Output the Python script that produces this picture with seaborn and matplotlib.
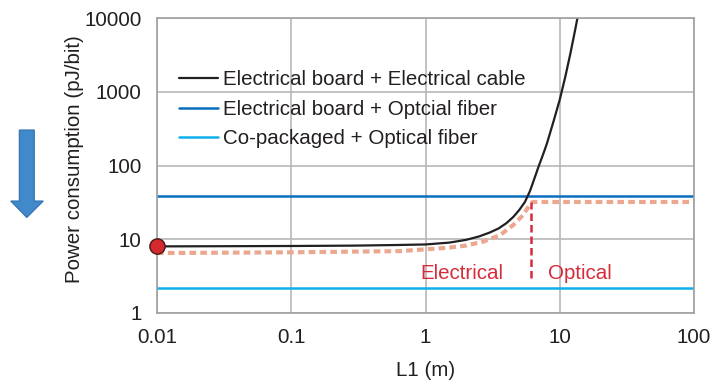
import matplotlib
matplotlib.use("Agg")
import matplotlib.pyplot as plt
import seaborn as sns
import numpy as np
import pandas as pd
from matplotlib.patches import Polygon

# ---------------- data ----------------
cable_L = [0.01, 0.1, 0.3, 0.6, 1.0, 1.5, 2.0, 2.5, 3.0, 3.5, 4.0, 4.5, 5.0,
           5.5, 6.0, 6.5, 7.0, 7.5, 8.0, 9.0, 10.0, 11.0, 12.0, 13.0, 14.0]
cable_P = [8.0, 8.1, 8.2, 8.35, 8.5, 9.0, 9.8, 10.9, 12.3, 14.0, 16.5, 20.0, 25.0,
           32.0, 45.0, 68.0, 100.0, 140.0, 195.0, 400.0, 780.0, 1600.0, 3300.0, 6800.0, 13500.0]

fiber_L = [0.01, 100]
fiber_P = [39.0, 39.0]

cpo_L = [0.01, 100]
cpo_P = [2.2, 2.2]

best_L = [0.01, 0.1, 0.3, 0.64, 1.0, 1.5, 2.0, 2.7, 3.6, 4.5, 5.3, 6.1, 6.3, 100]
best_P = [6.5, 6.65, 6.8, 6.9, 7.3, 7.7, 8.2, 9.3, 11.4, 15.6, 21.0, 31.0, 32.0, 32.0]

boundary_L = [6.1, 6.1]
boundary_P = [3.0, 32.0]

start_L = [0.01]
start_P = [8.0]

series_labels = ["Electrical board + Electrical cable",
                 "Electrical board + Optcial fiber",
                 "Co-packaged + Optical fiber"]
region_labels = ["Electrical", "Optical"]

x_ticks = [0.01, 0.1, 1, 10, 100]
x_ticklabels = ["0.01", "0.1", "1", "10", "100"]
y_ticks = [1, 10, 100, 1000, 10000]
y_ticklabels = ["1", "10", "100", "1000", "10000"]

# ---------------- style ----------------
sns.set_theme(style="whitegrid")
plt.rcParams['font.family'] = ['Liberation Sans', 'DejaVu Sans']
FS = 14.8
text_color = "#231F20"
red = "#D52B3A"

fig = plt.figure(figsize=(7.1, 3.8), dpi=100)
W, H = 710, 380
ax = fig.add_axes([157 / W, 1 - 313 / H, (694 - 157) / W, (313 - 18) / H])
ax.set_facecolor("white")

ax.set_xscale("log")
ax.set_yscale("log")

sns.lineplot(x=best_L, y=best_P, ax=ax, color="#EBA88E", linewidth=3.0,
             estimator=None, sort=False, legend=False)
ax.lines[-1].set_dashes((1.6, 1.0))
ax.lines[-1].set_solid_capstyle("butt")
ax.lines[-1].set_dash_capstyle("butt")

sns.lineplot(x=fiber_L, y=fiber_P, ax=ax, color="#0A6FBF", linewidth=1.8,
             estimator=None, label=series_labels[1])
sns.lineplot(x=cpo_L, y=cpo_P, ax=ax, color="#10B0EC", linewidth=1.8,
             estimator=None, label=series_labels[2])
sns.lineplot(x=cable_L, y=cable_P, ax=ax, color=text_color, linewidth=1.6,
             estimator=None, label=series_labels[0])

sns.lineplot(x=boundary_L, y=boundary_P, ax=ax, color=red, linewidth=1.8,
             estimator=None, sort=False, legend=False)
ax.lines[-1].set_dashes((3.0, 1.6))

ax.plot(start_L, start_P, marker="o", markersize=11, color="#D42A2F",
        markeredgecolor="#4A1A1A", markeredgewidth=1.0, linestyle="none",
        clip_on=False, zorder=10)

ax.set_xlim(0.01, 100)
ax.set_ylim(1, 10000)
ax.set_xticks(x_ticks)
ax.set_xticklabels(x_ticklabels)
ax.set_yticks(y_ticks)
ax.set_yticklabels(y_ticklabels)
ax.minorticks_off()
ax.tick_params(axis="both", length=0, labelsize=FS, colors=text_color)
ax.tick_params(axis="y", pad=11)
ax.tick_params(axis="x", pad=11)

ax.grid(True, which="major", color="#B8B8B8", linewidth=1.2)
for s in ax.spines.values():
    s.set_visible(True)
    s.set_color("#A0A0A0")
    s.set_linewidth(1.2)

ax.set_xlabel("L1 (m)", fontsize=FS, color=text_color, labelpad=10)
ax.set_ylabel("Power consumption (pJ/bit)", fontsize=FS, color=text_color)
ax.yaxis.set_label_coords(-0.136, 0.52)

# region labels
ax.text(3.83, 2.89, region_labels[0], color=red, fontsize=FS, ha="right", va="baseline")
ax.text(8.2, 2.89, region_labels[1], color=red, fontsize=FS, ha="left", va="baseline")

# legend
h, l = ax.get_legend_handles_labels()
order = [l.index(s) for s in series_labels]
leg = ax.legend([h[i] for i in order], [l[i] for i in order], loc="upper left",
                bbox_to_anchor=(0.025, 0.85), frameon=False, fontsize=FS,
                handlelength=1.9, handletextpad=0.25, labelspacing=0.5,
                borderaxespad=0.0)
for t in leg.get_texts():
    t.set_color(text_color)

# blue arrow on the left (figure pixel coordinates)
arrow_px = [(19.3, 130), (34.3, 130), (34.3, 201), (43.3, 201), (26.8, 217.5),
            (10.7, 201), (19.3, 201)]
poly = Polygon([(x / W, 1 - y / H) for x, y in arrow_px], closed=True,
               transform=fig.transFigure, facecolor="#4089CA", edgecolor="#2F70B0",
               linewidth=0.8)
fig.patches.append(poly)

fig.savefig("out.png", dpi=100)
